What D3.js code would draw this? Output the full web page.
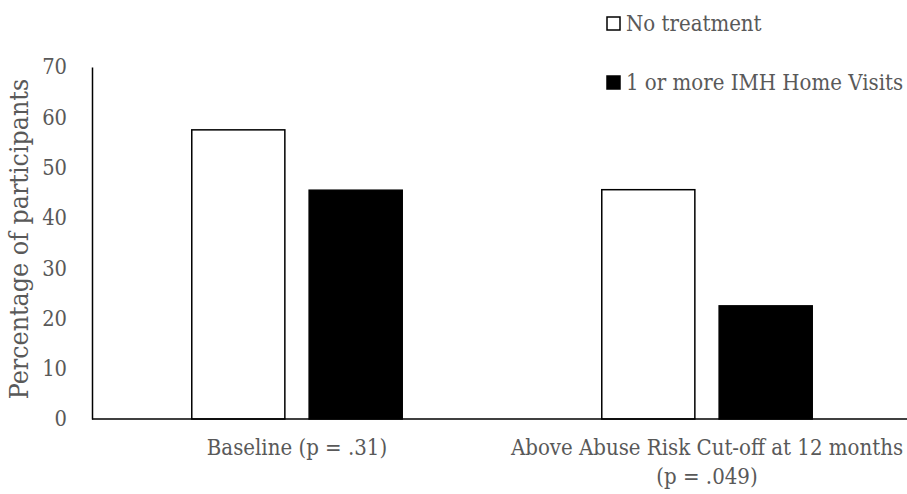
<!DOCTYPE html>
<html><head><meta charset="utf-8">
<script src="https://cdn.jsdelivr.net/npm/d3@7"></script>
<style>body{margin:0;background:#fff}svg text{font-family:"DejaVu Serif Condensed","DejaVu Serif",serif;fill:#595959}</style>
</head><body><svg id="c" width="907" height="494"></svg>
<script>
const categories = [["Baseline (p = .31)"], ["Above Abuse Risk Cut-off at 12 months", "(p = .049)"]];
const seriesNames = ["No treatment", "1 or more IMH Home Visits"];
const noTreatment = [57.5, 45.6];
const imhVisits = [45.5, 22.5];
const yTicks = [0, 10, 20, 30, 40, 50, 60, 70];

const svg = d3.select("#c");
const m = {l: 92};
const x = d3.scaleBand().domain(d3.range(categories.length)).range([m.l, 912]);
const x1 = d3.scaleBand().domain([0, 1]).range([0, x.bandwidth()]).paddingInner(0.207).paddingOuter(0.85);
const y = d3.scaleLinear().domain([0, 70]).range([419, 67]);

const series = [noTreatment, imhVisits];
const fills = ["#ffffff", "#000000"];
series.forEach((vals, s) => {
  svg.append("g").selectAll("rect").data(vals).join("rect")
    .attr("x", (d, i) => x(i) + x1(s))
    .attr("width", x1.bandwidth())
    .attr("y", d => y(d))
    .attr("height", d => y(0) - y(d))
    .attr("fill", fills[s])
    .attr("stroke", "#000").attr("stroke-width", 1.5);
});

const FS = 22;
const FF = '"DejaVu Serif Condensed","DejaVu Serif",serif';
// y axis
const ya = svg.append("g").attr("transform", `translate(${m.l},0)`)
  .call(d3.axisLeft(y).tickValues(yTicks).tickSize(0).tickPadding(25));
ya.select(".domain").attr("stroke", "#000").attr("stroke-width", 1.5);
ya.selectAll("text").attr("font-size", 21.7).style("font-family", FF).attr("fill", "#595959");

// x axis
svg.append("line").attr("x1", m.l).attr("x2", 907).attr("y1", y(0)).attr("y2", y(0)).attr("stroke", "#000").attr("stroke-width", 1.5);
categories.forEach((lines, i) => {
  const t = svg.append("text").attr("text-anchor", "middle").attr("font-size", FS);
  lines.forEach((ln, k) => t.append("tspan").attr("x", x(i) + x.bandwidth() / 2).attr("y", 455 + k * 29).text(ln));
});

// y title
svg.append("text").attr("transform", "translate(28,239) rotate(-90)").attr("text-anchor", "middle").attr("font-size", 26.5).text("Percentage of participants");

// legend
seriesNames.forEach((n, i) => {
  const yy = 17 + i * 59;
  svg.append("rect").attr("x", 607).attr("y", yy).attr("width", 13).attr("height", 13).attr("fill", fills[i]).attr("stroke", "#000").attr("stroke-width", 1.5);
  svg.append("text").attr("x", 626).attr("y", yy + 13.5).attr("font-size", FS).text(n);
});
</script></body></html>
